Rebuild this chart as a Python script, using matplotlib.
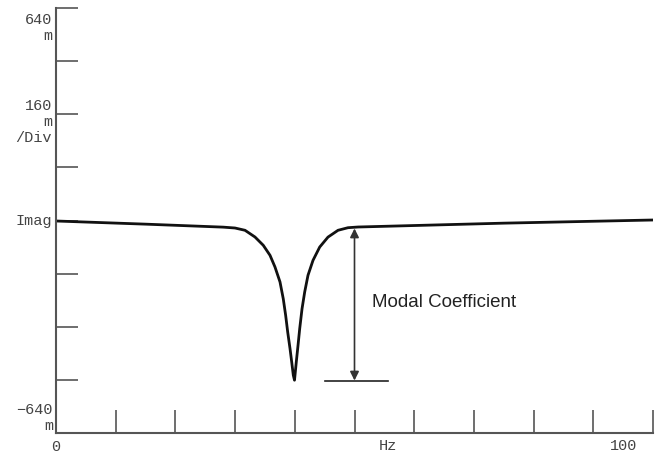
import matplotlib
matplotlib.use("Agg")
import matplotlib.pyplot as plt

# Data (frequency in Hz, imaginary part in m units)
freq_hz = [0, 15.0, 28.0, 29.98, 31.66, 33.33, 34.72, 35.85, 36.68, 37.52, 38.07,
           38.47, 38.81, 39.2, 39.48, 39.75, 39.95,
           40.25, 40.54, 40.82, 41.21, 41.66, 42.21, 43.05, 44.17, 45.56, 47.24,
           48.91, 50.59, 75.0, 100]
imag_m = [-1.5, -11, -20, -22.6, -29.5, -49.7, -74.7, -104.9, -140, -185, -236,
          -286, -336, -386, -426, -466, -481,
          -426, -376, -326, -266, -215, -165, -120, -80, -50, -29.5,
          -21.7, -19.6, -8, 1.5]

y_ticks = [-640, -480, -320, -160, 0, 160, 320, 480, 640]
x_ticks = [0, 10, 20, 30, 40, 50, 60, 70, 80, 90, 100]

arrow_x = 50
arrow_top = -24
arrow_bottom = -482
baseline_x = [45.1, 55.6]

fig = plt.figure(figsize=(6.55, 4.57), dpi=100)
ax = fig.add_axes([56 / 655, 24 / 457, 597 / 655, 425 / 457])
ax.set_xlim(0, 100)
ax.set_ylim(-640, 640)

gray = "#555555"
for s in ["top", "right"]:
    ax.spines[s].set_visible(False)
for s in ["left", "bottom"]:
    ax.spines[s].set_color(gray)
    ax.spines[s].set_linewidth(1.5)
    ax.spines[s].set_zorder(5)

ax.set_xticks(x_ticks)
ax.set_yticks(y_ticks)
ax.set_xticklabels([])
ax.set_yticklabels([])
ax.tick_params(axis="y", direction="in", length=16, width=1.2, color=gray)
ax.tick_params(axis="x", direction="in", length=16.5, width=1.2, color=gray)
for t in ax.yaxis.get_major_ticks() + ax.xaxis.get_major_ticks():
    t.tick1line.set_clip_on(False)

ax.plot(freq_hz, imag_m, color="#111111", lw=2.0, solid_capstyle="round",
        solid_joinstyle="round", zorder=4)

# Annotation
ax.annotate("", xy=(arrow_x, arrow_bottom), xytext=(arrow_x, arrow_top),
            arrowprops=dict(arrowstyle="<|-|>", color="#333333", lw=1.2,
                            mutation_scale=13, shrinkA=0, shrinkB=0))
ax.plot(baseline_x, [arrow_bottom, arrow_bottom], color="#222222", lw=1.2)
ax.text(52.9, -247, "Modal Coefficient", fontsize=13.5, family="Liberation Sans",
        color="#222222", ha="left", va="center")

# Tick labels (monospace)
lab_kw = dict(family="Liberation Mono", fontsize=11, color="#444444",
              linespacing=1.2)
trans_y = ax.get_yaxis_transform()
ax.annotate("640\nm", xy=(0, 640), xycoords=trans_y, xytext=(-4, -5),
            textcoords="offset pixels", ha="right", va="top", **lab_kw)
ax.annotate("160\nm\n/Div", xy=(0, 297), xycoords=trans_y, xytext=(-4, 0),
            textcoords="offset pixels", ha="right", va="center", **lab_kw)
ax.annotate("Imag", xy=(0, 0), xycoords=trans_y, xytext=(-4, 0),
            textcoords="offset pixels", ha="right", va="center", **lab_kw)
ax.annotate("\u2212640\nm", xy=(0, -640), xycoords=trans_y, xytext=(-3, 0),
            textcoords="offset pixels", ha="right", va="bottom", **lab_kw)

trans_x = ax.get_xaxis_transform()
ax.annotate("0", xy=(0, 0), xycoords=trans_x, xytext=(0, -14),
            textcoords="offset pixels", ha="center", va="center", **lab_kw)
ax.annotate("Hz", xy=(55.6, 0), xycoords=trans_x, xytext=(0, -13),
            textcoords="offset pixels", ha="center", va="center", **lab_kw)
ax.annotate("100", xy=(95.0, 0), xycoords=trans_x, xytext=(0, -13),
            textcoords="offset pixels", ha="center", va="center", **lab_kw)

fig.savefig("out.png", dpi=100)
